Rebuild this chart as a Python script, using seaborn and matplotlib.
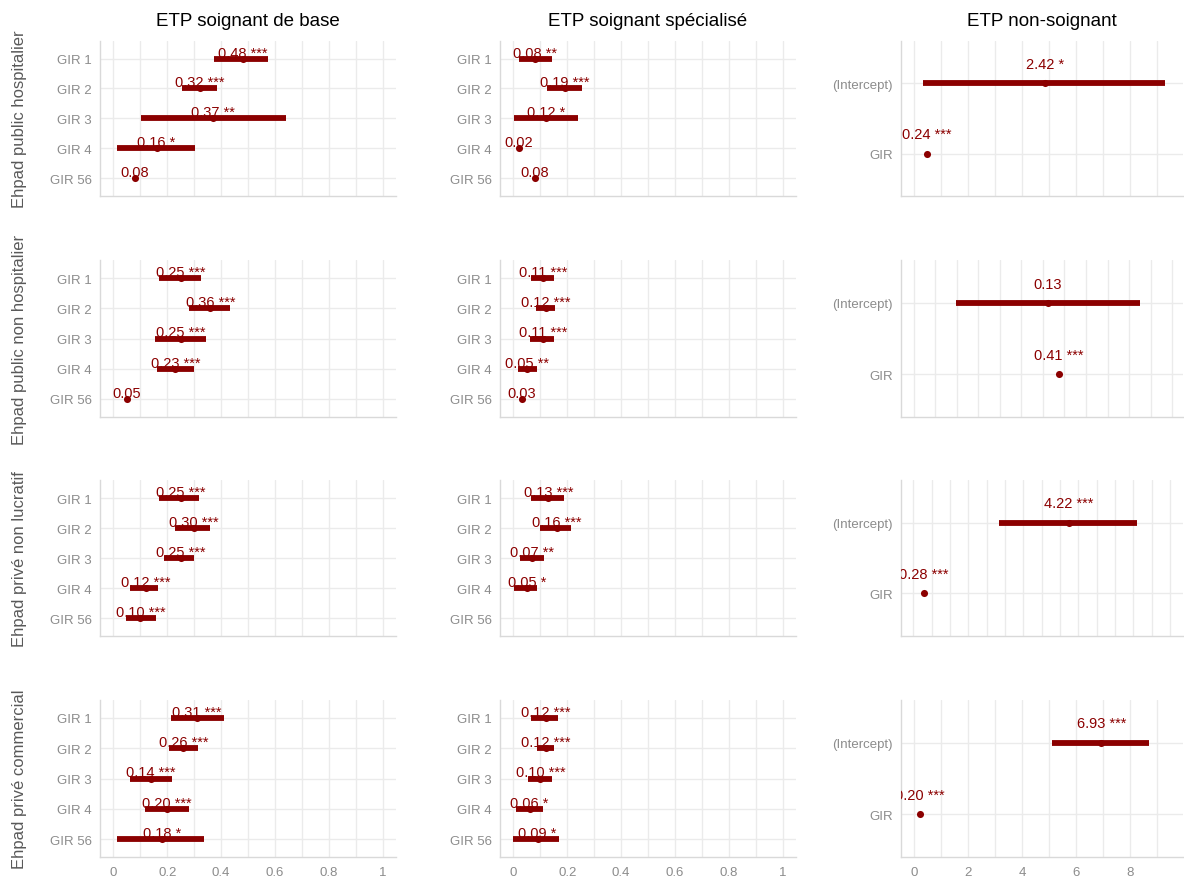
import numpy as np
import pandas as pd
import matplotlib
matplotlib.use("Agg")
import matplotlib.pyplot as plt
import matplotlib.transforms as mtransforms
from matplotlib.ticker import MultipleLocator, FuncFormatter
import seaborn as sns

sns.set_theme(style="whitegrid")
plt.rcParams['font.family'] = ['Liberation Sans', 'DejaVu Sans']

# rows / columns of the grid
ehpad_types = ["Ehpad public hospitalier", "Ehpad public non hospitalier",
               "Ehpad privé non lucratif", "Ehpad privé commercial"]
etp_types = ["ETP soignant de base", "ETP soignant spécialisé", "ETP non-soignant"]

gir_cats = ["GIR 1", "GIR 2", "GIR 3", "GIR 4", "GIR 56"]
lin_cats = ["(Intercept)", "GIR"]

# ---- ETP soignant de base (estimate, ci low, ci high, stars) per ehpad type
base_est = [[0.48, 0.32, 0.37, 0.16, 0.08],
            [0.25, 0.36, 0.25, 0.23, 0.05],
            [0.25, 0.30, 0.25, 0.12, 0.10],
            [0.31, 0.26, 0.14, 0.20, 0.18]]
base_lo = [[0.373, 0.253, 0.102, 0.015, 0.08],
           [0.169, 0.280, 0.153, 0.160, 0.05],
           [0.171, 0.230, 0.186, 0.063, 0.045],
           [0.212, 0.205, 0.063, 0.119, 0.015]]
base_hi = [[0.576, 0.383, 0.643, 0.304, 0.08],
           [0.327, 0.434, 0.345, 0.300, 0.05],
           [0.319, 0.360, 0.300, 0.166, 0.159],
           [0.409, 0.316, 0.219, 0.282, 0.338]]
base_stars = [["***", "***", "**", "*", ""],
              ["***", "***", "***", "***", ""],
              ["***", "***", "***", "***", "***"],
              ["***", "***", "***", "***", "*"]]

# ---- ETP soignant spécialisé
spec_est = [[0.08, 0.19, 0.12, 0.02, 0.08],
            [0.11, 0.12, 0.11, 0.05, 0.03],
            [0.13, 0.16, 0.07, 0.05, np.nan],
            [0.12, 0.12, 0.10, 0.06, 0.09]]
spec_lo = [[0.021, 0.125, 0.001, 0.02, 0.08],
           [0.066, 0.083, 0.061, 0.016, 0.03],
           [0.065, 0.100, 0.024, 0.001, np.nan],
           [0.065, 0.087, 0.053, 0.009, -0.002]]
spec_hi = [[0.142, 0.253, 0.239, 0.02, 0.08],
           [0.149, 0.153, 0.149, 0.088, 0.03],
           [0.186, 0.214, 0.112, 0.086, np.nan],
           [0.164, 0.150, 0.145, 0.108, 0.171]]
spec_stars = [["**", "***", "*", "", ""],
              ["***", "***", "***", "**", ""],
              ["***", "***", "**", "*", ""],
              ["***", "***", "***", "*", "*"]]

# ---- ETP non-soignant (linear model on GIR), positions as drawn
non_est = [[4.84, 0.47], [6.24, 6.74], [8.49, 0.57], [6.94, 0.22]]
non_lo = [[0.33, 0.47], [1.95, 6.74], [4.67, 0.57], [5.11, 0.22]]
non_hi = [[9.31, 0.47], [10.5, 6.74], [12.2, 0.57], [8.70, 0.22]]
non_lab = [[2.42, 0.24], [0.13, 0.41], [4.22, 0.28], [6.93, 0.20]]
non_stars = [["*", "***"], ["", "***"], ["***", "***"], ["***", "***"]]
non_xlim = [(-0.48, 9.96), (-0.58, 12.5), (-0.68, 14.7), (-0.48, 9.96)]

W, H = 1184, 879
col_px = [(100, 396), (500, 796), (901, 1183)]
row_px = [(41.7, 197), (261, 418), (481, 637), (700.7, 858.3)]

red = "#8B0000"
grid_c = "#ebebeb"
tick_c = "#8c8c8c"

fig = plt.figure(figsize=(W / 100, H / 100), dpi=100)


def draw_panel(ax, cats, est, lo, hi, labels, stars, dy):
    df = pd.DataFrame({"term": cats, "y": np.arange(len(cats)),
                       "est": est, "lo": lo, "hi": hi})
    ok = df.dropna()
    ax.hlines(ok["y"], ok["lo"], ok["hi"], color=red, lw=4.2, zorder=3)
    sns.scatterplot(data=ok, x="est", y="y", color=red, s=26,
                    edgecolor=red, linewidth=0, ax=ax, zorder=4)
    trans = mtransforms.offset_copy(ax.transData, fig=fig, x=0, y=dy, units="points")
    for i in ok.index:
        txt = f"{labels[i]:.2f}" + (f" {stars[i]}" if stars[i] else "")
        ax.text(ok.loc[i, "est"], ok.loc[i, "y"], txt, transform=trans,
                ha="center", va="baseline", color=red, fontsize=10.5,
                clip_on=True, zorder=5)
    ax.set_yticks(np.arange(len(cats)))
    ax.set_yticklabels(cats)
    ax.set_ylim(len(cats) - 0.4, -0.6)
    ax.set_xlabel("")
    ax.set_ylabel("")


for r in range(4):
    for c in range(3):
        x0, x1 = col_px[c]
        y0, y1 = row_px[r]
        ax = fig.add_axes([x0 / W, 1 - y1 / H, (x1 - x0) / W, (y1 - y0) / H])
        if c == 0:
            draw_panel(ax, gir_cats, base_est[r], base_lo[r], base_hi[r],
                       base_est[r], base_stars[r], 1.5)
        elif c == 1:
            draw_panel(ax, gir_cats, spec_est[r], spec_lo[r], spec_hi[r],
                       spec_est[r], spec_stars[r], 1.5)
        else:
            draw_panel(ax, lin_cats, non_est[r], non_lo[r], non_hi[r],
                       non_lab[r], non_stars[r], 11)

        if c < 2:
            ax.set_xlim(-0.05, 1.05)
            ax.xaxis.set_major_locator(MultipleLocator(0.2))
            ax.xaxis.set_minor_locator(MultipleLocator(0.1))
            ax.xaxis.set_major_formatter(FuncFormatter(lambda v, p: f"{v:g}"))
        else:
            ax.set_xlim(*non_xlim[r])
            ax.xaxis.set_major_locator(MultipleLocator(2))
            ax.xaxis.set_minor_locator(MultipleLocator(1))

        ax.grid(True, which="both", axis="x", color=grid_c, lw=1)
        ax.grid(True, which="major", axis="y", color=grid_c, lw=1)
        ax.set_axisbelow(True)
        for s in ["top", "right"]:
            ax.spines[s].set_visible(False)
        for s in ["left", "bottom"]:
            ax.spines[s].set_color("#d9d9d9")
            ax.spines[s].set_linewidth(1)
        ax.tick_params(axis="both", which="both", length=0, labelsize=9.5,
                       labelcolor=tick_c, pad=6)
        if r < 3:
            ax.tick_params(axis="x", labelbottom=False)

        if r == 0:
            ax.set_title(etp_types[c], fontsize=13.5, color="black", pad=11)
        if c == 0:
            fig.text(20 / W, 1 - (y0 + y1) / 2 / H, ehpad_types[r], rotation=90,
                     ha="center", va="center", fontsize=12, color="#595959")

fig.savefig("out.png", dpi=100)
